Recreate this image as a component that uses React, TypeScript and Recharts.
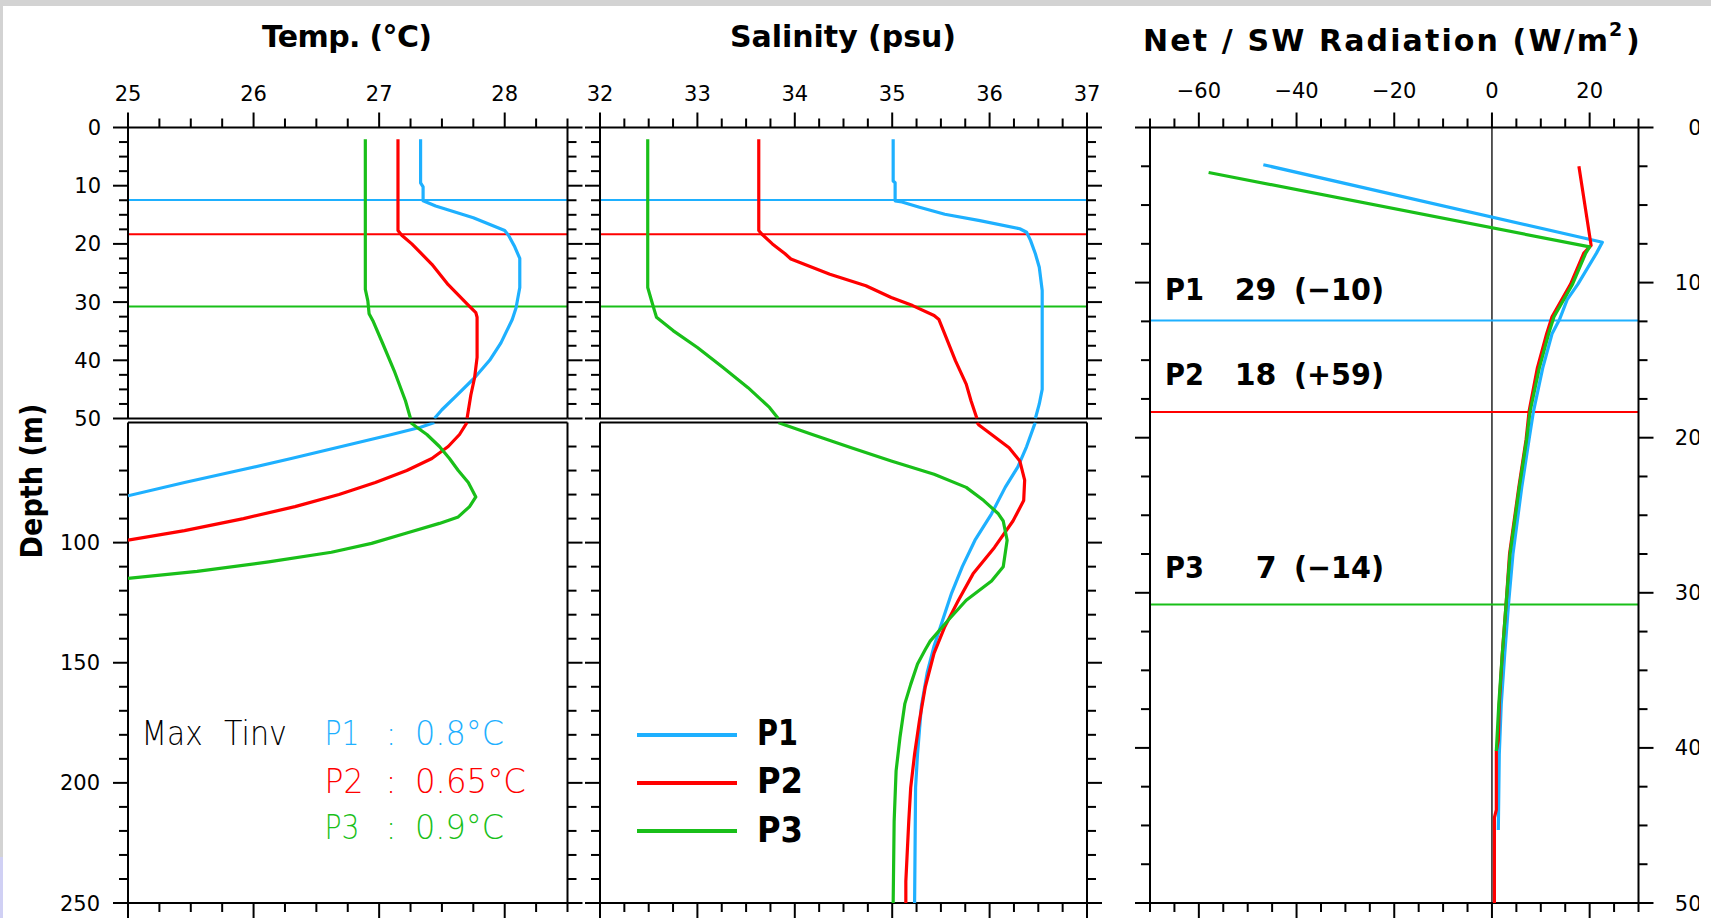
import React from "react";
import { ScatterChart, Scatter, XAxis, YAxis, ReferenceLine, Legend } from "recharts";

const W = 1711;
const H = 918;
const FONT = "DejaVu Sans";

const BLUE = "#1eb0ff";
const RED = "#ff0000";
const GREEN = "#19bf19";
const colors = [BLUE, RED, GREEN];
const names = ["P1", "P2", "P3"];

// temperature profiles: depth (m) / temp (°C)
const tDepth1 = [2, 9.5, 10.2, 12.6, 13.5, 15.5, 17.7, 18.5, 20.5, 22.5, 27.5, 31, 33, 37, 40, 43, 46, 48.5, 50, 52, 55, 60, 65, 70, 75, 80.5];
const temp1 = [27.33, 27.33, 27.35, 27.35, 27.45, 27.75, 28.0, 28.03, 28.08, 28.12, 28.12, 28.09, 28.06, 27.97, 27.88, 27.76, 27.62, 27.5, 27.44, 27.33, 27.1, 26.7, 26.3, 25.88, 25.45, 25.0];
const tDepth2 = [2, 17.7, 18.5, 20, 23.5, 27, 30.3, 31.8, 32.6, 39.5, 43, 46, 50, 55, 60, 65, 70, 75, 80, 85, 90, 95, 99];
const temp2 = [27.15, 27.15, 27.18, 27.26, 27.42, 27.55, 27.7, 27.77, 27.78, 27.78, 27.76, 27.73, 27.7, 27.64, 27.55, 27.42, 27.22, 26.97, 26.68, 26.33, 25.92, 25.45, 25.0];
const tDepth3 = [2, 27.8, 29.8, 32, 33.2, 37.2, 41.8, 47, 50, 52, 55, 60, 65, 70, 75, 81, 85, 89.3, 92, 96, 100.3, 104, 108, 112, 114.9];
const temp3 = [26.89, 26.89, 26.91, 26.92, 26.95, 27.03, 27.12, 27.21, 27.25, 27.3, 27.38, 27.48, 27.56, 27.63, 27.71, 27.77, 27.72, 27.63, 27.48, 27.22, 26.94, 26.62, 26.12, 25.55, 25.0];

// salinity profiles: depth (m) / salinity (psu)
const sDepth1 = [2, 9.2, 9.5, 12.6, 12.8, 13.7, 14.9, 16, 17.4, 18, 19.4, 21.7, 24, 28, 45, 47.5, 50, 51, 60, 68.5, 77, 88, 99, 110, 121, 132, 143, 154, 168, 188, 202, 250];
const sal1 = [35.01, 35.01, 35.03, 35.03, 35.1, 35.28, 35.54, 35.9, 36.31, 36.38, 36.42, 36.47, 36.51, 36.54, 36.54, 36.51, 36.47, 36.46, 36.38, 36.29, 36.16, 36.02, 35.85, 35.72, 35.61, 35.52, 35.43, 35.36, 35.3, 35.26, 35.24, 35.23];
const sDepth2 = [2, 17.7, 18.3, 20, 21.7, 22.6, 25.2, 27.2, 29.2, 30.6, 32.3, 33, 35.5, 40.1, 44.1, 47, 50, 51, 55, 60.5, 66, 74, 82.5, 91, 102, 113, 124, 135, 146, 160, 174, 188, 202, 216, 241, 250];
const sal2 = [33.63, 33.63, 33.66, 33.77, 33.9, 33.96, 34.36, 34.73, 34.99, 35.21, 35.43, 35.48, 35.54, 35.65, 35.76, 35.81, 35.87, 35.89, 36.02, 36.2, 36.31, 36.36, 36.35, 36.24, 36.05, 35.83, 35.68, 35.54, 35.43, 35.34, 35.28, 35.23, 35.19, 35.17, 35.14, 35.14];
const sDepth3 = [2, 27.5, 29.8, 31.5, 32.6, 34.9, 37.8, 41.2, 44.7, 48.1, 50, 51, 55, 60.5, 66, 71.5, 77, 82.5, 88, 91, 99, 110, 116, 124, 132.5, 141, 144.5, 150.5, 159, 167, 181, 195, 216, 250];
const sal3 = [32.49, 32.49, 32.53, 32.56, 32.58, 32.75, 33.0, 33.26, 33.52, 33.74, 33.83, 33.9, 34.18, 34.58, 34.99, 35.43, 35.76, 35.94, 36.09, 36.14, 36.18, 36.14, 36.02, 35.76, 35.57, 35.39, 35.34, 35.26, 35.19, 35.13, 35.08, 35.04, 35.02, 35.01];

// net / shortwave radiation profiles: depth (m) / flux (W/m2)
const rDepth1 = [2.4, 7.4, 8.1, 10.1, 11.1, 12.4, 13.3, 15.5, 18.3, 20.1, 23.2, 27.5, 30.7, 34, 37.2, 40.4, 45.3];
const rad1 = [-46.8, 22.6, 21.4, 17.6, 15.4, 13.8, 12.3, 10.4, 8.5, 7.6, 6.1, 4.3, 3.4, 2.6, 1.9, 1.5, 1.3];
const rDepth2 = [2.5, 7.6, 8.1, 10.1, 12.2, 13.3, 15.5, 18.3, 20.1, 23.2, 27.5, 30.7, 34, 37.2, 39.5, 40.2, 44, 44.5, 50];
const rad2 = [17.8, 20.3, 18.8, 16.1, 12.3, 11.2, 9.3, 7.6, 7.0, 5.5, 3.6, 2.9, 2.1, 1.5, 1.3, 0.9, 0.9, 0.5, 0.5];
const rDepth3 = [2.9, 7.7, 8.1, 10.1, 12.2, 13.3, 15.5, 18.3, 20.1, 23.2, 27.5, 30.7, 34, 37.2, 40.2];
const rad3 = [-58.0, 20.0, 19.2, 16.5, 12.7, 11.6, 9.7, 7.8, 7.1, 5.6, 3.7, 2.9, 2.1, 1.4, 0.9];

// mixed layer depth of each profile (m)
const mldDepth = [12.45, 18.35, 30.75];

// tick labels
const tempLabels = [25, 26, 27, 28];
const salLabels = [32, 33, 34, 35, 36, 37];
const radLabels = [-60, -40, -20, 0, 20];
const depthTopLabels = [0, 10, 20, 30, 40, 50];
const depthLowLabels = [100, 150, 200, 250];

// annotation texts
const tinvValues = ["0.8°C", "0.65°C", "0.9°C"];
const radNet = ["29", "18", "7"];
const radSw = ["(−10)", "(+59)", "(−14)"];

type Pt = { d: number; v: number };
type Side = "top" | "bottom" | "left" | "right";
type AxisCfg = { ticks?: number[]; major?: number[]; labels?: boolean; gap?: number; fmt?: (v: number) => string };

const pts = (depths: number[], vals: number[]): Pt[] => depths.map((d, i) => ({ d, v: vals[i] }));
const upper = (p: Pt[]) => p.filter((q) => q.d <= 50);
const lower = (p: Pt[]) => p.filter((q) => q.d >= 50);
const steps = (a: number, b: number, s: number) => {
  const out: number[] = [];
  for (let x = a; x <= b + 1e-9; x += s) out.push(Math.round(x * 1000) / 1000);
  return out;
};
const minus = (v: number) => (v < 0 ? "−" + Math.abs(v) : String(v));

const tempProfiles = [pts(tDepth1, temp1), pts(tDepth2, temp2), pts(tDepth3, temp3)];
const salProfiles = [pts(sDepth1, sal1), pts(sDepth2, sal2), pts(sDepth3, sal3)];
const radProfiles = [pts(rDepth1, rad1), pts(rDepth2, rad2), pts(rDepth3, rad3)];

// plot rectangles (page px)
const TOP0 = 127.5, TOP1 = 418.5, LOW0 = 422.5, LOW1 = 903;
const TX0 = 128, TX1 = 567.5, SX0 = 600, SX1 = 1087, RX0 = 1150, RX1 = 1638.5;
const AX = 2; // thickness given to each axis band (recharts skips axes of size 0)

function tickShape(side: Side, ax: AxisCfg) {
  const major = ax.major ?? [];
  return (p: any) => {
    const x = Number(p.x);
    const y = Number(p.y);
    const v = Number(p.payload?.value);
    const isMajor = major.some((m) => Math.abs(m - v) < 1e-6);
    const len = isMajor ? 15 : 9;
    const dx = side === "left" ? -len : side === "right" ? len : 0;
    const dy = side === "top" ? -len : side === "bottom" ? len : 0;
    let label = null;
    if (ax.labels && isMajor) {
      const txt = ax.fmt ? ax.fmt(v) : String(v);
      const gap = ax.gap ?? 27;
      const st = { fontFamily: FONT, fontSize: 21, fill: "#000" };
      if (side === "top") label = <text x={x} y={y - gap} textAnchor="middle" {...st}>{txt}</text>;
      else if (side === "left") label = <text x={x - gap} y={y} dy={7.5} textAnchor="end" {...st}>{txt}</text>;
      else if (side === "right") label = <text x={x + gap} y={y} dy={7.5} textAnchor="end" {...st}>{txt}</text>;
    }
    return (
      <g>
        <line x1={x} y1={y} x2={x + dx} y2={y + dy} stroke="#000" strokeWidth={2} />
        {label}
      </g>
    );
  };
}

function LegendBox(props: any) {
  const items = props.payload ?? [];
  return (
    <svg width={200} height={140} style={{ overflow: "visible" }}>
      {items.map((it: any, i: number) => (
        <g key={String(it.value)}>
          <line x1={0} x2={100} y1={17 + i * 48} y2={17 + i * 48} stroke={it.color} strokeWidth={4} />
          <text x={120} y={27 + i * 48.4} fontFamily={FONT} fontWeight="bold" fontSize={35} textLength={i === 0 ? 41 : 46} lengthAdjust="spacingAndGlyphs" fill="#000">
            {it.value}
          </text>
        </g>
      ))}
    </svg>
  );
}

type PanelProps = {
  x0: number; x1: number; y0: number; y1: number;
  xDomain: [number, number]; yDomain: [number, number];
  top: AxisCfg; bottom: AxisCfg; left: AxisCfg; right: AxisCfg;
  profiles: Pt[][];
  mld?: boolean;
  zeroLine?: boolean;
  legend?: boolean;
};

function Panel(p: PanelProps) {
  const axisLine = { stroke: "#000", strokeWidth: 2 };
  const margin = { top: p.y0 - AX, left: p.x0 - AX, right: W - p.x1 - AX, bottom: H - p.y1 - AX };
  return (
    <div style={{ position: "absolute", left: 0, top: 0 }}>
      <ScatterChart width={W} height={H} margin={margin}>
        <XAxis xAxisId={0} orientation="bottom" type="number" dataKey="v" domain={p.xDomain} allowDataOverflow height={AX}
          ticks={p.bottom.ticks} interval={0} tickSize={0} tickMargin={0} tickLine={false} axisLine={axisLine}
          tick={p.bottom.ticks ? tickShape("bottom", p.bottom) : false} />
        <XAxis xAxisId="t" orientation="top" type="number" dataKey="v" domain={p.xDomain} allowDataOverflow height={AX}
          ticks={p.top.ticks} interval={0} tickSize={0} tickMargin={0} tickLine={false} axisLine={axisLine}
          tick={p.top.ticks ? tickShape("top", p.top) : false} />
        <YAxis yAxisId={0} orientation="left" type="number" dataKey="d" domain={p.yDomain} reversed allowDataOverflow width={AX}
          ticks={p.left.ticks} interval={0} tickSize={0} tickMargin={0} tickLine={false} axisLine={axisLine}
          tick={p.left.ticks ? tickShape("left", p.left) : false} />
        <YAxis yAxisId="r" orientation="right" type="number" dataKey="d" domain={p.yDomain} reversed allowDataOverflow width={AX}
          ticks={p.right.ticks} interval={0} tickSize={0} tickMargin={0} tickLine={false} axisLine={axisLine}
          tick={p.right.ticks ? tickShape("right", p.right) : false} />
        {p.zeroLine && <ReferenceLine x={0} stroke="#000" strokeWidth={1.3} />}
        {p.mld && mldDepth.map((m, i) => <ReferenceLine key={"m" + i} y={m} stroke={colors[i]} strokeWidth={2} />)}
        {p.profiles.map((prof, i) => (
          <Scatter key={names[i]} name={names[i]} data={prof} fill={colors[i]}
            line={{ stroke: colors[i], strokeWidth: 3.2, strokeLinejoin: "round" }}
            shape={() => <g />} isAnimationActive={false} />
        ))}
        {p.legend && (
          <Legend layout="vertical" align="center" verticalAlign="middle" width={200} height={140}
            wrapperStyle={{ left: 637, top: 718, width: 200, height: 140 }}
            content={(props: any) => <LegendBox payload={props.payload} />} />
        )}
      </ScatterChart>
    </div>
  );
}

export default function App() {
  const depthTopTicks = steps(0, 50, 2.5);
  const depthLowTicks = steps(60, 250, 10);
  const tempTicks = steps(25, 28.5, 0.25);
  const salTicks = steps(32, 37, 0.25);
  const radTicks = steps(-70, 30, 5);
  const thin = { fontFamily: FONT, fontSize: 33, fontWeight: 300, lengthAdjust: "spacingAndGlyphs" as const };
  const bold = { fontFamily: FONT, fontWeight: "bold" as const, fill: "#000" };
  const tinvY = [745, 792.7, 839.3];
  const radY = [300, 385, 578.3];

  return (
    <div style={{ position: "absolute", left: 0, top: 0, width: W, height: H, background: "#fff", overflow: "hidden" }}>
      <Panel x0={TX0} x1={TX1} y0={TOP0} y1={TOP1} xDomain={[25, 28.5]} yDomain={[0, 50]}
        top={{ ticks: tempTicks, major: tempLabels, labels: true, gap: 27 }} bottom={{}}
        left={{ ticks: depthTopTicks, major: depthTopLabels, labels: true, gap: 27 }}
        right={{ ticks: depthTopTicks, major: depthTopLabels }}
        profiles={tempProfiles.map(upper)} mld />
      <Panel x0={TX0} x1={TX1} y0={LOW0} y1={LOW1} xDomain={[25, 28.5]} yDomain={[50, 250]}
        top={{}} bottom={{ ticks: tempTicks, major: tempLabels }}
        left={{ ticks: depthLowTicks, major: depthLowLabels, labels: true, gap: 28 }}
        right={{ ticks: depthLowTicks, major: depthLowLabels }}
        profiles={tempProfiles.map(lower)} />
      <Panel x0={SX0} x1={SX1} y0={TOP0} y1={TOP1} xDomain={[32, 37]} yDomain={[0, 50]}
        top={{ ticks: salTicks, major: salLabels, labels: true, gap: 27 }} bottom={{}}
        left={{ ticks: depthTopTicks, major: depthTopLabels }}
        right={{ ticks: depthTopTicks, major: depthTopLabels }}
        profiles={salProfiles.map(upper)} mld />
      <Panel x0={SX0} x1={SX1} y0={LOW0} y1={LOW1} xDomain={[32, 37]} yDomain={[50, 250]}
        top={{}} bottom={{ ticks: salTicks, major: salLabels }}
        left={{ ticks: depthLowTicks, major: depthLowLabels }}
        right={{ ticks: depthLowTicks, major: depthLowLabels }}
        profiles={salProfiles.map(lower)} legend />
      <Panel x0={RX0} x1={RX1} y0={TOP0} y1={LOW1} xDomain={[-70, 30]} yDomain={[0, 50]}
        top={{ ticks: radTicks, major: radLabels, labels: true, gap: 30, fmt: minus }}
        bottom={{ ticks: radTicks, major: radLabels }}
        left={{ ticks: depthTopTicks, major: depthTopLabels }}
        right={{ ticks: depthTopTicks, major: depthTopLabels, labels: true, gap: 63 }}
        profiles={radProfiles} mld zeroLine />

      <svg width={W} height={H} style={{ position: "absolute", left: 0, top: 0, pointerEvents: "none" }}>
        <rect x={0} y={0} width={W} height={6} fill="#d3d3d3" />
        <rect x={0} y={0} width={3} height={H} fill="#d3d3d3" />
        <rect x={0} y={857} width={3} height={H - 857} fill="#d0d0f4" />
        <rect x={1699} y={6} width={W - 1699} height={H - 6} fill="#fff" />

        <text x={347} y={47} textAnchor="middle" fontSize={30} textLength={170} lengthAdjust="spacing" {...bold}>Temp. (°C)</text>
        <text x={843} y={47} textAnchor="middle" fontSize={30} textLength={226} lengthAdjust="spacing" {...bold}>Salinity (psu)</text>
        <text x={1143} y={50.5} fontSize={30} textLength={465} lengthAdjust="spacing" {...bold}>Net / SW Radiation (W/m</text>
        <text x={1609} y={36} fontSize={19} {...bold}>2</text>
        <text x={1626} y={50.5} fontSize={30} {...bold}>)</text>

        <text transform="translate(42,481) rotate(-90)" textAnchor="middle" fontSize={31} textLength={155} lengthAdjust="spacingAndGlyphs" {...bold}>Depth (m)</text>

        <text x={141.6} y={745} textLength={61} fill="#000" {...thin}>Max</text>
        <text x={224} y={745} textLength={63} fill="#000" {...thin}>Tinv</text>
        {names.map((n, i) => (
          <g key={"tinv" + n}>
            <text x={324.5} y={tinvY[i]} textLength={i === 1 ? 39 : 35} fill={colors[i]} {...thin}>{n}</text>
            <text x={385.5} y={tinvY[i]} fill={colors[i]} fontFamily={FONT} fontSize={33} fontWeight={300}>:</text>
            <text x={415} y={tinvY[i]} textLength={i === 1 ? 111 : 89} fill={colors[i]} {...thin}>{tinvValues[i]}</text>
          </g>
        ))}

        {names.map((n, i) => (
          <g key={"rad" + n}>
            <text x={1165} y={radY[i]} fontSize={30} textLength={39} lengthAdjust="spacingAndGlyphs" {...bold}>{n}</text>
            <text x={1276.5} y={radY[i]} fontSize={30} textAnchor="end" {...bold}>{radNet[i]}</text>
            <text x={1294} y={radY[i]} fontSize={30} textLength={90} lengthAdjust="spacingAndGlyphs" {...bold}>{radSw[i]}</text>
          </g>
        ))}
      </svg>
    </div>
  );
}
